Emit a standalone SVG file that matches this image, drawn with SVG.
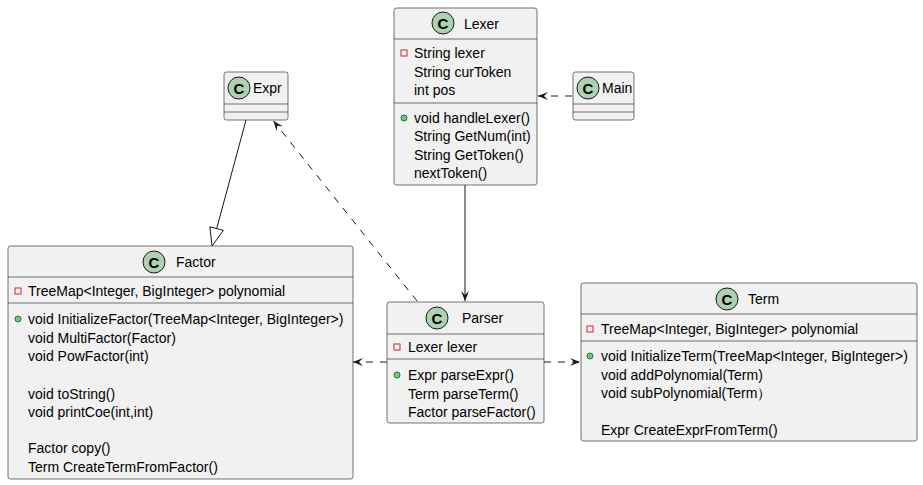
<svg xmlns="http://www.w3.org/2000/svg" width="923" height="485" viewBox="0 0 923 485">
<style>
.box{fill:#F1F1F1;stroke:#181818;stroke-width:0.6}
.sep{stroke:#181818;stroke-width:0.6}
.ci{fill:#ADD1B2;stroke:#181818;stroke-width:1}
.cl{font-family:"Liberation Sans",Arial,sans-serif;font-size:15px;font-weight:bold;fill:#000;text-anchor:middle}
.t{font-family:"Liberation Sans",Arial,sans-serif;font-size:14px;fill:#000}
.priv{fill:none;stroke:#C82930;stroke-width:1}
.pub{fill:#84BE84;stroke:#038048;stroke-width:1}
.ln{stroke:#181818;stroke-width:1;fill:none}
.dash{stroke-dasharray:7,7}
</style>
<defs>
<marker id="arr" markerUnits="userSpaceOnUse" markerWidth="12" markerHeight="10" refX="10" refY="5" orient="auto" viewBox="0 0 12 10">
<path d="M0,1 L10,5 L0,9 L4,5 Z" fill="#181818"/>
</marker>
</defs>
<g id="connectors">
<line class="ln" x1="246" y1="120" x2="216.7" y2="228.6"/>
<polygon points="212,246 223.4,230.4 209.9,226.8" fill="none" stroke="#181818" stroke-width="1"/>
<line class="ln dash" x1="417" y1="301" x2="273.5" y2="121" marker-end="url(#arr)"/>
<line class="ln" x1="465" y1="185" x2="465" y2="301" marker-end="url(#arr)"/>
<line class="ln dash" x1="572" y1="96" x2="538" y2="96" marker-end="url(#arr)"/>
<line class="ln dash" x1="387" y1="362" x2="353" y2="362" marker-end="url(#arr)"/>
<line class="ln dash" x1="544" y1="362" x2="580" y2="362" marker-end="url(#arr)"/>
</g>
<g id="Lexer">
<rect class="box" x="394" y="8" width="143" height="177" rx="2.5"/>
<circle class="ci" cx="443" cy="23" r="11"/>
<text class="cl" x="443" y="28.5">C</text>
<text class="t" x="464" y="28.5">Lexer</text>
<line class="sep" x1="394" y1="39" x2="537" y2="39"/>
<rect class="priv" x="401" y="50" width="6" height="6"/>
<text class="t" x="414" y="58">String lexer</text>
<text class="t" x="414" y="77">String curToken</text>
<text class="t" x="414" y="95">int pos</text>
<line class="sep" x1="394" y1="103" x2="537" y2="103"/>
<circle class="pub" cx="404" cy="118" r="3"/>
<text class="t" x="414" y="123">void handleLexer()</text>
<text class="t" x="414" y="141">String GetNum(int)</text>
<text class="t" x="414" y="159.5">String GetToken()</text>
<text class="t" x="414" y="178">nextToken()</text>
</g>
<g id="Main">
<rect class="box" x="573" y="72" width="61" height="48" rx="2.5"/>
<circle class="ci" cx="588" cy="88" r="11"/>
<text class="cl" x="588" y="93.5">C</text>
<text class="t" x="602" y="93">Main</text>
<line class="sep" x1="573" y1="104" x2="634" y2="104"/>
<line class="sep" x1="573" y1="112" x2="634" y2="112"/>
</g>
<g id="Expr">
<rect class="box" x="224" y="72" width="64" height="48" rx="2.5"/>
<circle class="ci" cx="239" cy="88" r="11"/>
<text class="cl" x="239" y="93.5">C</text>
<text class="t" x="253" y="93">Expr</text>
<line class="sep" x1="224" y1="104" x2="288" y2="104"/>
<line class="sep" x1="224" y1="112" x2="288" y2="112"/>
</g>
<g id="Factor">
<rect class="box" x="8" y="246" width="345" height="233" rx="2.5"/>
<circle class="ci" cx="154" cy="262" r="11"/>
<text class="cl" x="154" y="267.5">C</text>
<text class="t" x="176" y="267">Factor</text>
<line class="sep" x1="8" y1="277" x2="353" y2="277"/>
<rect class="priv" x="15" y="288" width="6" height="6"/>
<text class="t" x="28" y="295.5">TreeMap&lt;Integer, BigInteger&gt; polynomial</text>
<line class="sep" x1="8" y1="303" x2="353" y2="303"/>
<circle class="pub" cx="18" cy="319" r="3"/>
<text class="t" x="28" y="324">void InitializeFactor(TreeMap&lt;Integer, BigInteger&gt;)</text>
<text class="t" x="28" y="342.5">void MultiFactor(Factor)</text>
<text class="t" x="28" y="360.5">void PowFactor(int)</text>
<text class="t" x="28" y="398.5">void toString()</text>
<text class="t" x="28" y="416.5">void printCoe(int,int)</text>
<text class="t" x="28" y="453">Factor copy()</text>
<text class="t" x="28" y="472">Term CreateTermFromFactor()</text>
</g>
<g id="Parser">
<rect class="box" x="387" y="302" width="157" height="121" rx="2.5"/>
<circle class="ci" cx="437" cy="318" r="11"/>
<text class="cl" x="437" y="323.5">C</text>
<text class="t" x="462" y="323">Parser</text>
<line class="sep" x1="387" y1="334" x2="544" y2="334"/>
<rect class="priv" x="394" y="344" width="6" height="6"/>
<text class="t" x="408" y="352">Lexer lexer</text>
<line class="sep" x1="387" y1="359" x2="544" y2="359"/>
<circle class="pub" cx="397" cy="375" r="3"/>
<text class="t" x="408" y="380">Expr parseExpr()</text>
<text class="t" x="408" y="398.5">Term parseTerm()</text>
<text class="t" x="408" y="417">Factor parseFactor()</text>
</g>
<g id="Term">
<rect class="box" x="581" y="283" width="336" height="158" rx="2.5"/>
<circle class="ci" cx="727" cy="299" r="11"/>
<text class="cl" x="727" y="304.5">C</text>
<text class="t" x="748" y="304">Term</text>
<line class="sep" x1="581" y1="314" x2="917" y2="314"/>
<rect class="priv" x="587" y="326" width="6" height="6"/>
<text class="t" x="601" y="334">TreeMap&lt;Integer, BigInteger&gt; polynomial</text>
<line class="sep" x1="581" y1="341" x2="917" y2="341"/>
<circle class="pub" cx="590" cy="356" r="3"/>
<text class="t" x="601" y="361">void InitializeTerm(TreeMap&lt;Integer, BigInteger&gt;)</text>
<text class="t" x="601" y="379.5">void addPolynomial(Term)</text>
<text class="t" x="601" y="398">void subPolynomial(Term）</text>
<text class="t" x="601" y="435">Expr CreateExprFromTerm()</text>
</g>
</svg>
